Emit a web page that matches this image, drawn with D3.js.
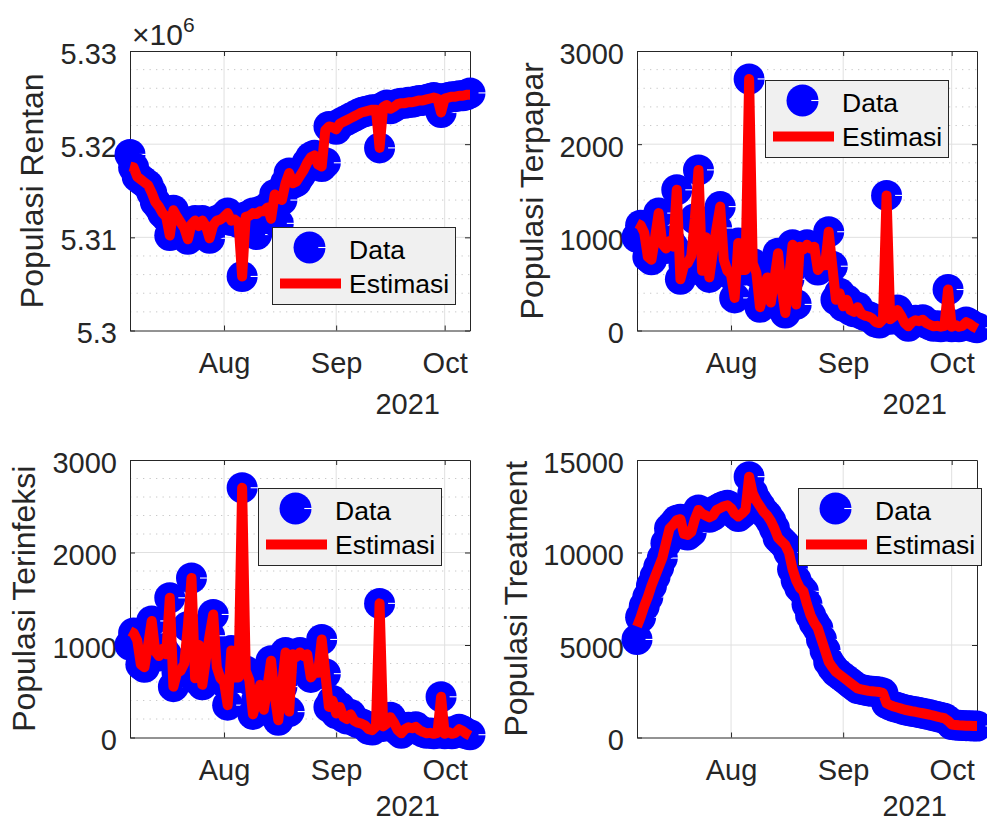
<!DOCTYPE html>
<html><head><meta charset="utf-8">
<script src="https://cdn.jsdelivr.net/npm/d3@7"></script>
<style>body{margin:0;background:#fff}svg text{font-family:"Liberation Sans",Arial,Helvetica,sans-serif}</style>
</head><body><svg id="fig" width="987" height="822"></svg>
<script>
// ---------- data ----------
const startDate = "2021-07-06";
const endDate = "2021-10-08";
const xTickDates = ["2021-08-01", "2021-09-01", "2021-10-01"];
const xTickLabels = ["Aug", "Sep", "Oct"];
const yearLabel = "2021";
const legendLabels = ["Data", "Estimasi"];

const rentanData = [5318900,5317500,5316500,5316200,5315900,5315600,5314800,5313800,5313300,5312600,
5312200,5310200,5312900,5312200,5311600,5311000,5309800,5311400,5311800,5311200,
5311800,5311200,5309900,5311300,5311800,5311900,5312200,5312600,5311800,5311900,
5311600,5305800,5312200,5312300,5312600,5310300,5312800,5312800,5313200,5312000,
5314600,5311500,5314000,5315800,5316900,5315800,5316000,5316600,5317200,5318000,
5318600,5318800,5317800,5317600,5318000,5321900,5321800,5321600,5322200,5322400,
5322600,5322800,5323000,5323200,5323400,5323500,5323600,5323700,5323700,5319600,
5324000,5324200,5323800,5324000,5324300,5324400,5324400,5324500,5324500,5324600,
5324700,5324700,5324800,5324900,5325000,5324900,5323400,5324900,5325000,5325100,
5325100,5325200,5325200,5325300,5325500];
const rentanEst = [5317600,5317500,5316500,5316200,5315900,5315600,5314800,5313800,5313300,5312600,
5312200,5310200,5312900,5312200,5311600,5311000,5309800,5311400,5311800,5311200,
5311800,5311200,5309900,5311300,5311800,5311900,5312200,5312600,5311800,5311900,
5311600,5305800,5312200,5312300,5312600,5312500,5312800,5312800,5313200,5312000,
5314600,5314300,5314000,5315800,5316900,5315800,5316000,5316600,5317200,5318000,
5318600,5318800,5317800,5317600,5321500,5321900,5321800,5321600,5322200,5322400,
5322600,5322800,5323000,5323200,5323400,5323500,5323600,5323700,5323700,5319600,
5324000,5324200,5323800,5324000,5324300,5324400,5324400,5324500,5324500,5324600,
5324700,5324700,5324800,5324900,5325000,5324900,5323400,5324900,5325000,5325100,
5325100,5325200,5325200,5325300,5325300];

const terpaparData = [1000,1130,1050,790,760,1000,1260,930,880,960,
900,1510,550,700,720,800,1200,1724,640,1000,
570,850,1100,1330,760,640,600,350,940,650,
650,2700,720,620,250,400,570,300,550,830,
450,187,550,920,280,900,870,920,880,900,
650,700,700,1060,690,330,400,260,330,220,
200,250,180,160,150,130,90,80,120,1450,
120,150,220,160,80,45,90,110,100,115,
80,60,45,50,40,50,440,40,60,40,
50,90,70,40,30];
const terpaparEst = [1150,1130,1050,790,760,1000,1260,930,880,960,
900,1510,550,700,720,800,1200,1724,640,1000,
570,850,1100,1330,760,640,600,350,940,650,
650,2700,720,620,250,400,570,300,550,830,
450,187,550,920,280,900,870,920,880,900,
650,700,700,1060,690,330,400,260,330,220,
200,250,180,160,150,130,90,80,120,1450,
120,150,220,160,80,45,90,110,100,115,
80,60,45,50,40,50,440,40,60,40,
50,90,70,40,20];

const terinfeksiData = [1000,1130,1050,790,760,1000,1260,930,880,960,
900,1510,550,700,720,800,1200,1724,640,1000,
570,850,1100,1330,760,640,600,350,940,650,
650,2700,720,620,250,400,570,300,550,830,
450,187,550,920,280,900,870,920,880,900,
650,700,700,1060,690,330,400,260,330,220,
200,250,180,160,150,130,90,80,120,1450,
120,150,220,160,80,45,90,110,100,115,
80,60,45,50,40,50,440,40,60,40,
50,90,70,40,30];
const terinfeksiEst = [1150,1130,1050,790,760,1000,1260,930,880,960,
900,1510,550,700,720,800,1200,1724,640,1000,
570,850,1100,1330,760,640,600,350,940,650,
650,2700,720,620,250,400,570,300,550,830,
450,187,550,920,280,900,870,920,880,900,
650,700,700,1060,690,330,400,260,330,220,
200,250,180,160,150,130,90,80,120,1450,
120,150,220,160,80,45,90,110,100,115,
80,60,45,50,40,50,440,40,60,40,
50,90,70,40,20];

const treatmentData = [5300,6500,7100,7600,8200,8700,9200,9700,10500,11300,
11500,11750,11800,11000,10950,11100,11800,12300,12100,12000,
11900,12000,12300,12400,12500,12550,12400,12100,11950,12100,
12300,14100,13200,12800,12500,12200,12000,11700,11300,10800,
10600,10400,10000,9100,8500,8100,7900,7200,6600,6200,
5900,5300,4700,4100,3800,3550,3400,3250,3100,2950,
2800,2650,2600,2560,2520,2500,2480,2460,2400,1850,
1750,1680,1620,1560,1500,1460,1420,1390,1350,1310,
1270,1230,1180,1130,1080,1040,900,700,680,660,
650,640,630,620,620];
const treatmentEst = [6000,6500,7100,7600,8200,8700,9200,9700,10500,11300,
11500,11750,11800,11000,10950,11100,11800,12300,12100,12000,
11900,12000,12300,12400,12500,12550,12400,12100,11950,12100,
12300,14100,13200,12800,12500,12200,12000,11700,11300,10800,
10600,10400,10000,9100,8500,8100,7900,7200,6600,6200,
5900,5300,4700,4100,3800,3550,3400,3250,3100,2950,
2800,2650,2600,2560,2520,2500,2480,2460,2400,1850,
1750,1680,1620,1560,1500,1460,1420,1390,1350,1310,
1270,1230,1180,1130,1080,1040,900,700,680,660,
650,640,630,620,620];

const rentanTicks = [5300000, 5310000, 5320000, 5330000];
const rentanTickLabels = ["5.3", "5.31", "5.32", "5.33"];
const rentanExponent = "6";
const terpaparTicks = [0, 1000, 2000, 3000];
const terinfeksiTicks = [0, 1000, 2000, 3000];
const treatmentTicks = [0, 5000, 10000, 15000];

// ---------- layout ----------
const svg = d3.select("#fig");
const parse = d3.utcParse("%Y-%m-%d");
const t0 = parse(startDate), t1 = parse(endDate);
const AX = "#262626";

const panels = [
  {label: "Populasi Rentan", data: rentanData, est: rentanEst, ticks: rentanTicks, tickLabels: rentanTickLabels,
   minor: 2000, box: {x: 130, y: 51, w: 340, h: 279.5}, labelX: 43, legend: {x: 272, y: 227}, exponent: rentanExponent},
  {label: "Populasi Terpapar", data: terpaparData, est: terpaparEst, ticks: terpaparTicks,
   minor: 200, box: {x: 637, y: 51, w: 340, h: 279.5}, labelX: 543, legend: {x: 765, y: 80}},
  {label: "Populasi Terinfeksi", data: terinfeksiData, est: terinfeksiEst, ticks: terinfeksiTicks,
   minor: 200, box: {x: 130, y: 460, w: 340, h: 277.5}, labelX: 35, legend: {x: 258, y: 488}},
  {label: "Populasi Treatment", data: treatmentData, est: treatmentEst, ticks: treatmentTicks,
   minor: null, box: {x: 637, y: 460, w: 340, h: 277.5}, labelX: 527, legend: {x: 798, y: 488}}
];

const R = 15.5;

function drawMarker(g, cx, cy, r) {
  g.append("circle").attr("cx", cx).attr("cy", cy).attr("r", r).attr("fill", "#0000ff");
  g.append("line").attr("x1", cx + r * 0.55).attr("x2", cx + r + 0.5).attr("y1", cy).attr("y2", cy)
    .attr("stroke", "#ffffff").attr("stroke-width", 1.1);
}

panels.forEach(p => {
  const b = p.box;
  const ticks = p.ticks;
  const x = d3.scaleUtc().domain([t0, t1]).range([b.x, b.x + b.w]);
  const y = d3.scaleLinear().domain([ticks[0], ticks[ticks.length - 1]]).range([b.y + b.h, b.y]);
  const dates = p.data.map((_, i) => d3.utcDay.offset(t0, i));
  const g = svg.append("g");

  // minor grid
  if (p.minor) {
    const minorVals = d3.range(ticks[0] + p.minor, ticks[ticks.length - 1], p.minor).filter(v => Math.abs((v - ticks[0]) % (ticks[1] - ticks[0])) > 1e-6);
    g.append("g").selectAll("line").data(minorVals).join("line")
      .attr("x1", b.x).attr("x2", b.x + b.w).attr("y1", d => y(d)).attr("y2", d => y(d))
      .attr("stroke", "#c8c8c8").attr("stroke-width", 1).attr("stroke-dasharray", "1.3,5.2");
  }
  // major grid
  const xt = xTickDates.map(parse);
  g.append("g").selectAll("line").data(xt).join("line")
    .attr("x1", d => x(d)).attr("x2", d => x(d)).attr("y1", b.y).attr("y2", b.y + b.h)
    .attr("stroke", "#e0e0e0").attr("stroke-width", 1);
  g.append("g").selectAll("line").data(ticks.slice(1, -1)).join("line")
    .attr("x1", b.x).attr("x2", b.x + b.w).attr("y1", d => y(d)).attr("y2", d => y(d))
    .attr("stroke", "#e0e0e0").attr("stroke-width", 1);

  // axes via d3 axis
  const yLabels = p.tickLabels;
  const yAxis = d3.axisLeft(y).tickValues(ticks).tickSizeInner(-5).tickSizeOuter(0).tickPadding(13)
    .tickFormat((d, i) => yLabels ? yLabels[i] : d3.format("d")(d));
  const ya = g.append("g").attr("transform", `translate(${b.x},0)`).call(yAxis);
  ya.select(".domain").attr("stroke", AX);
  ya.selectAll(".tick line").attr("stroke", AX);
  ya.selectAll(".tick text").attr("fill", AX).attr("font-size", 29).attr("dy", "0.42em")
    .style("font-family", '"Liberation Sans",Arial,sans-serif');
  const yAxisR = d3.axisRight(y).tickValues(ticks).tickSizeInner(-5).tickSizeOuter(0).tickFormat("");
  const yr = g.append("g").attr("transform", `translate(${b.x + b.w},0)`).call(yAxisR);
  yr.select(".domain").attr("stroke", AX); yr.selectAll(".tick line").attr("stroke", AX);

  const xAxis = d3.axisBottom(x).tickValues(xt).tickSizeInner(-5).tickSizeOuter(0).tickPadding(22)
    .tickFormat((d, i) => xTickLabels[i]);
  const xa = g.append("g").attr("transform", `translate(0,${b.y + b.h})`).call(xAxis);
  xa.select(".domain").attr("stroke", AX);
  xa.selectAll(".tick line").attr("stroke", AX);
  xa.selectAll(".tick text").attr("fill", AX).attr("font-size", 29).attr("dy", "0.71em")
    .style("font-family", '"Liberation Sans",Arial,sans-serif');
  const xAxisT = d3.axisTop(x).tickValues(xt).tickSizeInner(-5).tickSizeOuter(0).tickFormat("");
  const xat = g.append("g").attr("transform", `translate(0,${b.y})`).call(xAxisT);
  xat.select(".domain").attr("stroke", AX); xat.selectAll(".tick line").attr("stroke", AX);

  // year label
  g.append("text").attr("x", b.x + b.w - 30).attr("y", Math.min(b.y + b.h + 83, 816)).attr("text-anchor", "end")
    .attr("font-size", 29).attr("fill", AX).text(yearLabel);

  // exponent label
  if (p.exponent) {
    const ex = g.append("text").attr("x", b.x + 2).attr("y", b.y - 6).attr("fill", AX).attr("font-size", 30);
    ex.append("tspan").text("\u00d710");
    ex.append("tspan").attr("dy", -13).attr("font-size", 21).text(p.exponent);
  }

  // y label
  g.append("text").attr("transform", `translate(${p.labelX},${b.y + b.h / 2}) rotate(-90)`)
    .attr("text-anchor", "middle").attr("font-size", 32).attr("fill", AX).text(p.label);

  // data markers
  const mk = g.append("g");
  p.data.forEach((v, i) => drawMarker(mk, x(dates[i]), y(v), R));

  // estimate line
  const line = d3.line().x((d, i) => x(dates[i])).y(d => y(d));
  g.append("path").datum(p.est).attr("d", line).attr("fill", "none").attr("stroke", "#ff0000")
    .attr("stroke-width", 10).attr("stroke-linejoin", "round");

  // legend
  const L = p.legend;
  const lg = g.append("g").attr("transform", `translate(${L.x},${L.y})`);
  lg.append("rect").attr("x", 0.5).attr("y", 0.5).attr("width", 183).attr("height", 77)
    .attr("fill", "#f0f0f0").attr("stroke", AX).attr("stroke-width", 1);
  drawMarker(lg, 37.5, 20.5, 16);
  lg.append("line").attr("x1", 8).attr("x2", 69).attr("y1", 56.5).attr("y2", 56.5)
    .attr("stroke", "#ff0000").attr("stroke-width", 10);
  lg.append("text").attr("x", 77).attr("y", 32).attr("font-size", 26.5).attr("fill", "#000").text(legendLabels[0]);
  lg.append("text").attr("x", 77).attr("y", 66).attr("font-size", 26.5).attr("fill", "#000").text(legendLabels[1]);
});
</script></body></html>
